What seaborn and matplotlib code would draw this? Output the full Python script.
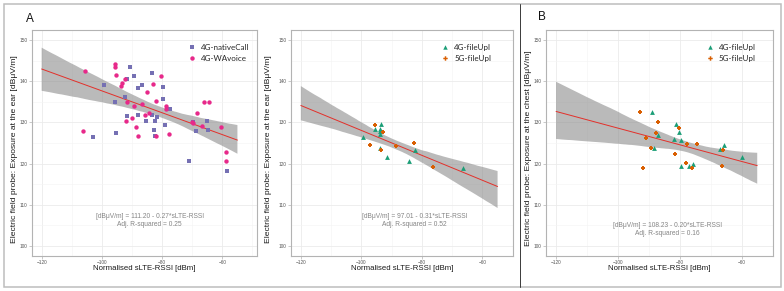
import numpy as np
import pandas as pd
import matplotlib
matplotlib.use("Agg")
import matplotlib.pyplot as plt
import seaborn as sns
from matplotlib.lines import Line2D
from matplotlib.patches import Rectangle

# ---------------- data ----------------
# Panel A, left: exposure at the ear, voice calls
native_x = [-103.1, -99.2, -95.5, -95.3, -92.3, -91.6, -91.5, -90.8, -89.3, -88.0,
            -87.9, -86.6, -85.3, -83.5, -83.2, -82.7, -82.5, -82.2, -81.6, -79.8,
            -79.7, -79.2, -77.5, -71.0, -69.9, -68.6, -65.1, -64.7, -58.3]
native_y = [126.4, 139.2, 135.0, 127.4, 136.2, 140.5, 131.5, 143.6, 141.3, 138.3,
            131.9, 139.0, 130.3, 142.0, 131.8, 128.2, 126.7, 130.3, 131.4, 138.6,
            135.6, 129.3, 133.3, 120.6, 130.1, 127.9, 130.4, 128.2, 118.1]
wa_x = [-106.3, -105.5, -95.8, -95.6, -95.3, -93.8, -93.3, -92.4, -91.9, -91.6,
        -90.0, -89.4, -88.6, -88.1, -86.6, -85.8, -85.0, -84.2, -83.0, -82.1,
        -82.0, -80.5, -78.8, -78.7, -77.7, -70.1, -69.7, -68.3, -66.8, -66.2,
        -64.4, -60.3, -58.8, -58.7]
wa_y = [127.8, 142.5, 143.4, 144.2, 141.6, 138.8, 139.6, 140.5, 130.3, 135.0,
        131.2, 134.1, 128.9, 126.6, 134.5, 131.9, 137.5, 132.2, 139.4, 135.2,
        126.7, 141.3, 134.1, 133.3, 127.1, 130.1, 129.9, 132.3, 129.2, 134.9,
        135.0, 128.9, 122.7, 120.6]

# Panel A, right: exposure at the ear, file upload
ear4g_x = [-99.4, -95.6, -93.9, -94.0, -93.4, -93.7, -94.0, -91.6, -84.2, -82.3, -66.4]
ear4g_y = [126.4, 128.3, 128.4, 128.0, 129.7, 127.2, 123.8, 121.6, 120.5, 123.3, 118.8]
ear5g_x = [-95.5, -92.7, -97.3, -93.6, -88.7, -82.7, -76.4]
ear5g_y = [129.4, 127.7, 124.6, 123.2, 124.2, 124.9, 119.1]

# Panel B: exposure at the chest, file upload
chest4g_x = [-89.1, -81.3, -80.3, -81.9, -79.5, -87.0, -88.5, -79.7, -76.9, -75.9,
             -67.1, -65.7, -60.0]
chest4g_y = [132.5, 129.6, 127.6, 126.0, 125.7, 126.9, 123.8, 119.3, 119.4, 119.8,
             123.6, 124.6, 121.7]
chest5g_x = [-92.9, -87.0, -87.8, -90.9, -89.2, -80.2, -77.6, -74.6, -81.7, -78.1,
             -76.2, -66.0, -66.5, -92.0]
chest5g_y = [132.5, 130.0, 127.5, 126.3, 123.8, 128.7, 124.8, 124.8, 122.4, 120.1,
             119.0, 123.2, 119.4, 118.9]

series_names = [["4G-nativeCall", "4G-WAvoice"],
                ["4G-fileUpl", "5G-fileUpl"],
                ["4G-fileUpl", "5G-fileUpl"]]
equations = ["[dB\u03bcV/m] = 111.20 - 0.27*sLTE-RSSI",
             "[dB\u03bcV/m] = 97.01 - 0.31*sLTE-RSSI",
             "[dB\u03bcV/m] = 108.23 - 0.20*sLTE-RSSI"]
r2_labels = ["Adj. R-squared = 0.25", "Adj. R-squared = 0.52", "Adj. R-squared = 0.16"]
y_titles = ["Electric field probe: Exposure at the ear [dB\u03bcV/m]",
            "Electric field probe: Exposure at the ear [dB\u03bcV/m]",
            "Electric field probe: Exposure at the chest [dB\u03bcV/m]"]
x_title = "Normalised sLTE-RSSI [dBm]"
x_ticks = [-120, -100, -80, -60]
y_ticks = [100, 110, 120, 130, 140, 150]
fit_range = (-120, -55)

panels = [
    ((native_x, native_y), (wa_x, wa_y)),
    ((ear4g_x, ear4g_y), (ear5g_x, ear5g_y)),
    ((chest4g_x, chest4g_y), (chest5g_x, chest5g_y)),
]

# ---------------- styling ----------------
sns.set_theme(style="white")
plt.rcParams["font.family"] = ["Liberation Sans", "DejaVu Sans"]

colors = [["#7570B3", "#E7298A"], ["#1B9E77", "#D95F02"], ["#1B9E77", "#D95F02"]]
markers = [["s", "o"], ["^", "P"], ["^", "P"]]
msizes = [[9, 10], [12, 11], [12, 11]]

W, H = 784, 291
fig = plt.figure(figsize=(W / 100, H / 100), dpi=100)

ax_px = [(31.7, 257.3), (291.0, 512.7), (546.0, 772.7)]
top, bottom = 30.0, 256.0
xlims = [(-123.3, -48.4), (-123.25, -51.75), (-123.25, -51.75)]
ylab_x = [15.0, 268.5, 529.0]
eq_pos = [(-84.1, 106.1), (-82.4, 106.1), (-83.9, 103.9)]
leg_x = [0.693, 0.678, 0.704]

for i, (left, right) in enumerate(ax_px):
    ax = fig.add_axes([left / W, (H - bottom) / H, (right - left) / W, (bottom - top) / H])
    (xa, ya), (xb, yb) = panels[i]
    df = pd.DataFrame({
        "x": list(xa) + list(xb),
        "y": list(ya) + list(yb),
        "group": [series_names[i][0]] * len(xa) + [series_names[i][1]] * len(xb),
    })
    # regression with CI over fixed range
    ax.set_xlim(*fit_range)
    sns.regplot(data=df, x="x", y="y", scatter=False, truncate=False, ci=95,
                n_boot=2000, seed=3, color="#8C8C8C",
                line_kws=dict(color="#E3302A", lw=0.7, zorder=4), ax=ax)
    band = ax.collections[-1]
    band.set_alpha(0.6)
    band.set_facecolor("#8C8C8C")
    band.set_edgecolor("none")
    band.set_zorder(2)

    for k in range(2):
        sub = df[df["group"] == series_names[i][k]]
        sns.scatterplot(data=sub, x="x", y="y", color=colors[i][k], marker=markers[i][k],
                        s=msizes[i][k], linewidth=0, ax=ax, zorder=5, legend=False)

    ax.set_xlim(*xlims[i])
    ax.set_ylim(97.5, 152.5)
    ax.set_xticks(x_ticks)
    ax.set_xticks([-110, -90, -70, -50], minor=True)
    ax.set_yticks(y_ticks)
    ax.set_yticks([105, 115, 125, 135, 145], minor=True)
    ax.grid(True, which="major", color="#EBEBEB", lw=0.6)
    ax.grid(True, which="minor", color="#F4F4F4", lw=0.4)
    ax.set_axisbelow(True)
    for sp in ax.spines.values():
        sp.set_color("#B3B3B3")
        sp.set_linewidth(0.8)
    ax.tick_params(which="major", direction="out", length=2.0, width=0.5, color="#B3B3B3",
                   labelsize=3.4, labelcolor="#555555", pad=1.2, bottom=True, left=True)
    ax.tick_params(which="minor", length=0)

    ax.set_xlabel(x_title, fontsize=5.6, color="#1A1A1A")
    ax.xaxis.set_label_coords(0.5, -(268.0 - bottom) / (bottom - top))
    ax.xaxis.label.set_va("center")
    ax.set_ylabel(y_titles[i], fontsize=6.1, color="#1A1A1A")
    ax.yaxis.set_label_coords((ylab_x[i] - left) / (right - left), 0.475)
    ax.yaxis.label.set_va("center")

    ax.text(eq_pos[i][0], eq_pos[i][1], equations[i] + "\n" + r2_labels[i],
            ha="center", va="center", color="#858585", fontsize=4.8, linespacing=1.2)

    handles = [Line2D([], [], marker=markers[i][k], color=colors[i][k], linestyle="",
                      markersize=3.2, markeredgewidth=0) for k in range(2)]
    ax.legend(handles, series_names[i], loc="upper left", bbox_to_anchor=(leg_x[i], 0.94),
              frameon=False, prop=dict(family="Lato", size=5.8), handletextpad=0.6,
              labelspacing=0.55, borderaxespad=0, borderpad=0, handlelength=1.0)

# panel letters
fig.text(26 / W, 1 - 18.5 / H, "A", fontsize=8.5, ha="left", va="center", color="#111111")
fig.text(538 / W, 1 - 17.5 / H, "B", fontsize=8.5, ha="left", va="center", color="#111111")

# outer frame and divider
fig.patches.append(Rectangle((3.5 / W, 4.0 / H), (781 - 3.5) / W, (287 - 4) / H,
                             transform=fig.transFigure, fill=False, edgecolor="#BDBDBD",
                             lw=1.1, zorder=0))
fig.add_artist(Line2D([519.5 / W, 519.5 / W], [4.0 / H, 1 - 3.5 / H],
                      transform=fig.transFigure, color="#3A3A3A", lw=0.7))

fig.savefig("out.png", dpi=100)
